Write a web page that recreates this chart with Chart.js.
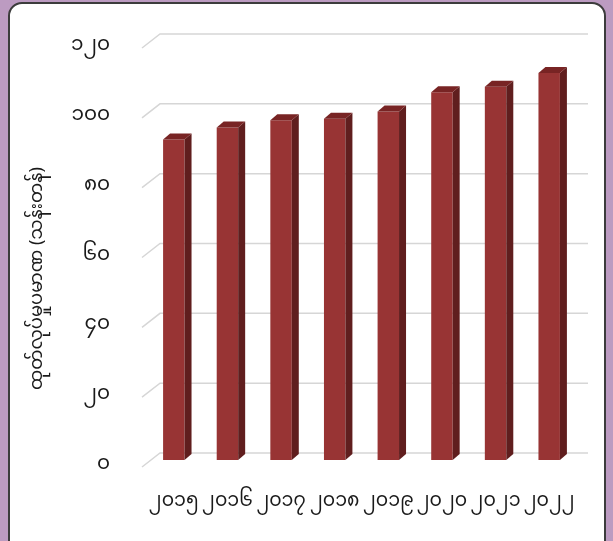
<!DOCTYPE html>
<html>
<head>
<meta charset="utf-8">
<script src="https://cdn.jsdelivr.net/npm/chart.js@4"></script>
<style>
  html, body { margin: 0; padding: 0; }
  body { width: 613px; height: 541px; background: #bc9bc1; position: relative; overflow: hidden; }
  #card {
    position: absolute; left: 8px; top: 2px; width: 598px; height: 600px;
    background: #fff; border: 2.5px solid #3c3c3c; border-radius: 14px; box-sizing: border-box;
  }
  #wrap { position: absolute; left: 0; top: 0; width: 613px; height: 541px; }
</style>
</head>
<body>
<div id="card"></div>
<div id="wrap"><canvas id="ourChart"></canvas></div>
<script>
const years = ['၂၀၁၅', '၂၀၁၆', '၂၀၁၇', '၂၀၁၈', '၂၀၁၉', '၂၀၂၀', '၂၀၂၁', '၂၀၂၂'];
const values = [91.8, 95.2, 97.3, 97.7, 99.8, 105.3, 106.9, 110.8];
const yTickLabels = ['၀', '၂၀', '၄၀', '၆၀', '၈၀', '၁၀၀', '၁၂၀'];
const yTitle = 'ထုတ်လုပ်မှုပမာဏ (သန်းတန်)';

const myFont = "'Noto Sans Myanmar', 'Padauk', 'Myanmar Text', 'Noto Sans', sans-serif";

// fake 3d: back-plane grid with little slanted stubs, and side/top faces on bars
const depth3d = {
    id: 'depth3d',
    beforeDatasetsDraw(chart) {
        const ctx = chart.ctx;
        const y = chart.scales.y;
        const area = chart.chartArea;
        ctx.save();
        ctx.strokeStyle = '#d6d6d6';
        ctx.lineWidth = 1.5;
        y.ticks.forEach(t => {
            const py = y.getPixelForValue(t.value);
            ctx.beginPath();
            ctx.moveTo(area.left - 5, py + 7);
            ctx.lineTo(area.left + 13, py - 7);
            ctx.lineTo(area.right + 12, py - 7);
            ctx.stroke();
        });
        // axis title, sits a bit lower than the chart area middle
        ctx.translate(40, (area.top + area.bottom) / 2 + 28);
        ctx.rotate(-Math.PI / 2);
        ctx.fillStyle = '#1a1a1a';
        ctx.font = '18px ' + myFont;
        ctx.textAlign = 'center';
        ctx.textBaseline = 'middle';
        ctx.fillText(yTitle, 0, 0);
        ctx.restore();
    },
    afterDatasetsDraw(chart) {
        const ctx = chart.ctx;
        const dx = 7, dy = -6;
        ctx.save();
        chart.getDatasetMeta(0).data.forEach(bar => {
            const p = bar.getProps(['x', 'y', 'base', 'width'], true);
            const l = p.x - p.width / 2, r = p.x + p.width / 2;
            ctx.fillStyle = 'rgb(96, 30, 30)';
            ctx.beginPath();
            ctx.moveTo(r, p.y);
            ctx.lineTo(r + dx, p.y + dy);
            ctx.lineTo(r + dx, p.base + dy);
            ctx.lineTo(r, p.base);
            ctx.closePath();
            ctx.fill();
            ctx.fillStyle = 'rgb(120, 36, 36)';
            ctx.beginPath();
            ctx.moveTo(l, p.y);
            ctx.lineTo(l + dx, p.y + dy);
            ctx.lineTo(r + dx, p.y + dy);
            ctx.lineTo(r, p.y);
            ctx.closePath();
            ctx.fill();
        });
        ctx.restore();
    }
};

new Chart(document.getElementById('ourChart'), {
    type: 'bar',
    data: {
        labels: years,
        datasets: [
            {
                data: values,
                backgroundColor: 'rgb(152, 52, 52)',
                borderWidth: 0,
                barPercentage: 0.5,
                categoryPercentage: 0.8,
            },
        ]
    },
    options: {
        responsive: true,
        maintainAspectRatio: false,
        animation: false,
        layout: {
            padding: { left: 10, right: 37, top: 36, bottom: 0 }
        },
        plugins: {
            legend: { display: false },
            tooltip: { enabled: false },
        },
        scales: {
            x: {
                grid: { display: false },
                border: { display: false },
                ticks: {
                    color: '#1a1a1a',
                    font: { family: myFont, size: 19 },
                    padding: 25,
                    maxRotation: 0,
                    autoSkip: false,
                },
                afterFit(scale) { scale.height = 81; }
            },
            y: {
                min: 0,
                max: 120,
                grid: { display: false },
                border: { display: false },
                ticks: {
                    stepSize: 20,
                    color: '#1a1a1a',
                    font: { family: myFont, size: 20 },
                    padding: 29,
                    labelOffset: 7,
                    callback: (v) => yTickLabels[v / 20],
                },
                afterFit(scale) { scale.width = 137; }
            }
        }
    },
    plugins: [depth3d]
});
</script>
</body>
</html>
